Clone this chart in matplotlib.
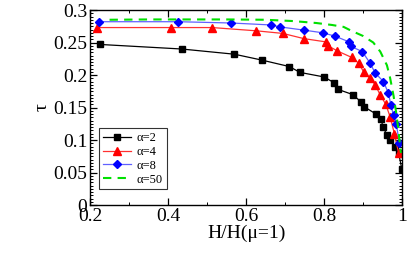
import matplotlib
matplotlib.use("Agg")
import matplotlib.pyplot as plt
from matplotlib.ticker import MultipleLocator

plt.rcParams['font.family'] = ['Liberation Serif', 'DejaVu Serif']
plt.rcParams['mathtext.fontset'] = 'stix'

x_a2 = [0.226, 0.435, 0.570, 0.640, 0.711, 0.738, 0.800, 0.826, 0.835, 0.873, 0.894,
        0.903, 0.933, 0.946, 0.951, 0.961, 0.970, 0.982, 0.991, 0.999]
y_a2 = [0.247, 0.240, 0.232, 0.223, 0.213, 0.204, 0.197, 0.188, 0.178, 0.170, 0.159,
        0.151, 0.140, 0.132, 0.120, 0.108, 0.100, 0.090, 0.080, 0.056]

x_a4 = [0.217, 0.408, 0.513, 0.626, 0.694, 0.748, 0.804, 0.810, 0.834, 0.871, 0.889,
        0.901, 0.918, 0.931, 0.944, 0.958, 0.969, 0.980, 0.991]
y_a4 = [0.273, 0.273, 0.273, 0.268, 0.264, 0.256, 0.251, 0.245, 0.237, 0.227, 0.218,
        0.205, 0.195, 0.185, 0.169, 0.155, 0.136, 0.110, 0.080]

x_a8 = [0.223, 0.426, 0.562, 0.664, 0.687, 0.749, 0.796, 0.827, 0.864, 0.869, 0.898,
        0.918, 0.931, 0.952, 0.965, 0.971, 0.978, 0.985, 0.993]
y_a8 = [0.282, 0.282, 0.280, 0.277, 0.274, 0.269, 0.265, 0.260, 0.251, 0.244, 0.236,
        0.218, 0.203, 0.190, 0.172, 0.154, 0.138, 0.125, 0.095]

x_a50 = [0.25, 0.35, 0.45, 0.55, 0.65, 0.72, 0.78, 0.82, 0.85, 0.87, 0.90, 0.926,
         0.944, 0.961, 0.969, 0.978, 0.984, 0.990, 0.994, 0.997]
y_a50 = [0.285, 0.2855, 0.2855, 0.2855, 0.285, 0.283, 0.280, 0.277, 0.274, 0.268,
         0.260, 0.250, 0.236, 0.215, 0.196, 0.168, 0.145, 0.118, 0.095, 0.080]

labels = ['α=2', 'α=4', 'α=8', 'α=50']

fig = plt.figure(figsize=(4.15, 2.6), dpi=100)
ax = fig.add_axes([0.217, 0.2115, 0.752, 0.75])

ax.plot(x_a2, y_a2, color='black', lw=0.9, marker='s', ms=5, mec='black', mfc='black', label=labels[0])
ax.plot(x_a4, y_a4, color='#ff3030', lw=0.9, marker='^', ms=6, mec='red', mfc='red', label=labels[1])
ax.plot(x_a8, y_a8, color='#6060ff', lw=0.9, marker='D', ms=4.5, mec='blue', mfc='blue', label=labels[2])
ax.plot(x_a50, y_a50, color='#00e000', lw=1.5, ls=(0, (4, 3)), label=labels[3])

ax.set_xlim(0.2, 1.0)
ax.set_ylim(0, 0.3)
ax.xaxis.set_major_locator(MultipleLocator(0.2))
ax.xaxis.set_minor_locator(MultipleLocator(0.1))
ax.yaxis.set_major_locator(MultipleLocator(0.05))
ax.yaxis.set_minor_locator(MultipleLocator(0.005))
ax.set_xticks([0.2, 0.4, 0.6, 0.8, 1.0])
ax.set_xticklabels(['0.2', '0.4', '0.6', '0.8', '1'])
ax.set_yticks([0, 0.05, 0.1, 0.15, 0.2, 0.25, 0.3])
ax.set_yticklabels(['0', '0.05', '0.1', '0.15', '0.2', '0.25', '0.3'])
ax.tick_params(which='both', direction='in', top=True, right=True, labelsize=14, pad=2)
ax.tick_params(which='major', length=5, width=0.9)
ax.tick_params(which='minor', length=2.5, width=0.7)
for s in ax.spines.values():
    s.set_linewidth(1.0)

ax.set_xlabel('H/H(μ=1)', fontsize=14, labelpad=0)
ax.set_ylabel('τ', fontsize=14, labelpad=2)

leg = ax.legend(loc='lower left', bbox_to_anchor=(0.03, 0.08), fontsize=9, frameon=True,
                fancybox=False, edgecolor='black', handlelength=2.2, borderpad=0.3,
                labelspacing=0.15, handletextpad=0.5, borderaxespad=0)
leg.get_frame().set_linewidth(0.8)

fig.savefig('out.png', dpi=100)
